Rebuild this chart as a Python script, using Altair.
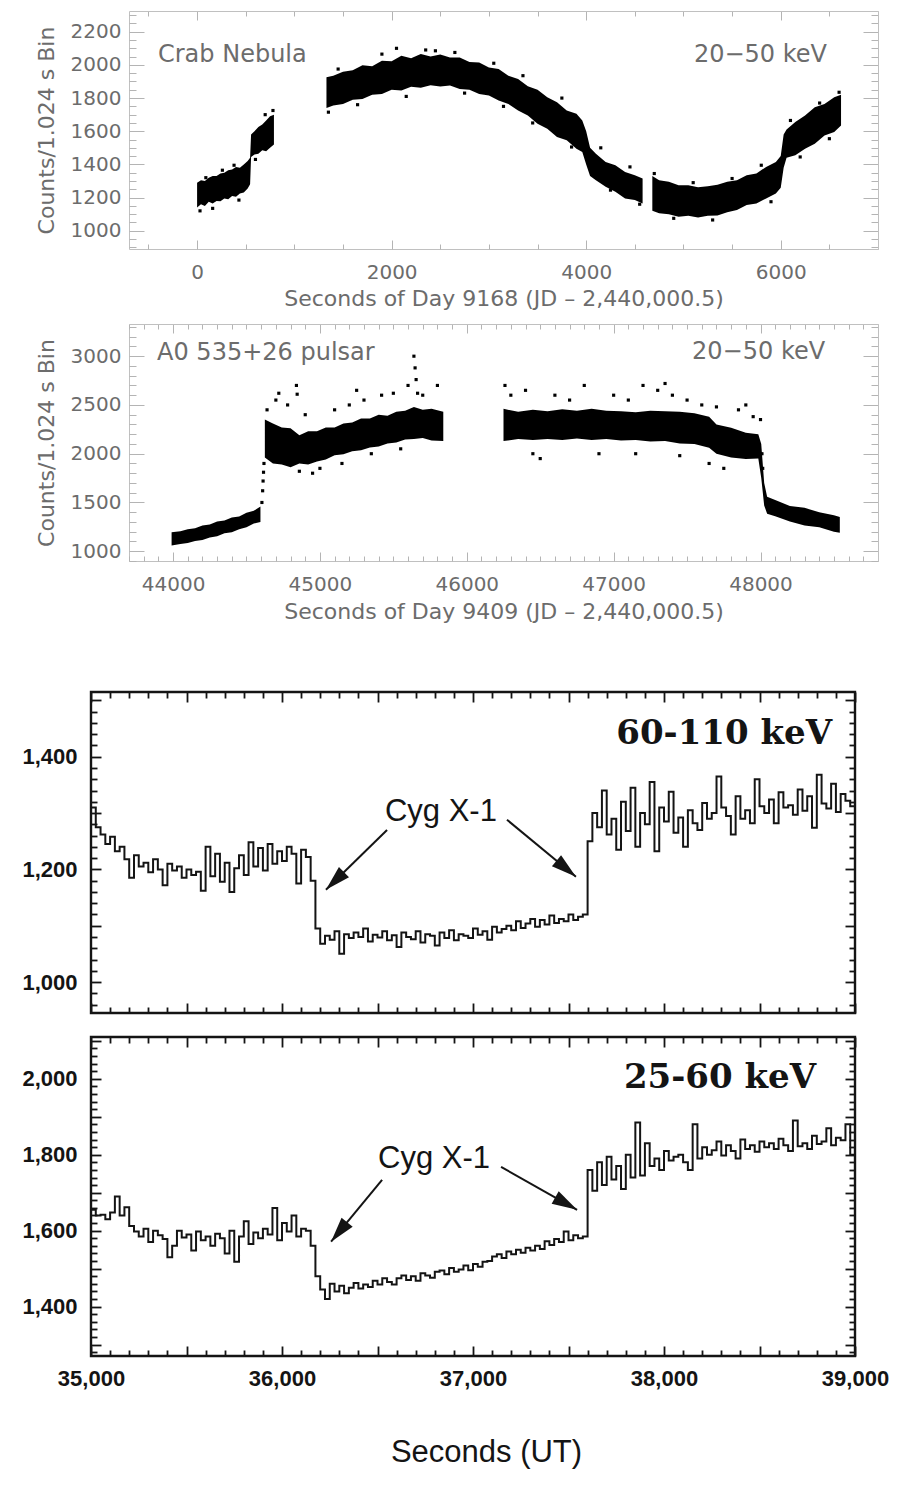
import math
import altair as alt
import pandas as pd

# ---------------- Panel 1: Crab Nebula, 20-50 keV (band of dense points) ----------------
crab_a_t = [0, 40, 80, 120, 160, 200, 240, 280, 320, 360, 400, 440, 480, 520, 545, 555, 590, 630, 670, 710, 750, 790]
crab_a_lo = [1140, 1160, 1150, 1175, 1165, 1180, 1178, 1195, 1190, 1210, 1205, 1225, 1230, 1255, 1280, 1445, 1460, 1465, 1485, 1480, 1500, 1520]
crab_a_hi = [1290, 1305, 1300, 1320, 1330, 1330, 1345, 1350, 1365, 1370, 1385, 1380, 1400, 1420, 1440, 1580, 1600, 1625, 1640, 1665, 1690, 1700]

crab_b_t = [1330, 1400, 1500, 1600, 1700, 1800, 1900, 2000, 2100, 2200, 2300, 2400, 2500, 2600, 2700, 2800, 2900, 3000,
            3100, 3200, 3300, 3400, 3500, 3600, 3700, 3800, 3900, 3960, 4000, 4040, 4100, 4200, 4300, 4400, 4500, 4580]
crab_b_lo = [1740, 1755, 1765, 1790, 1795, 1820, 1825, 1850, 1845, 1868, 1862, 1878, 1870, 1876, 1855, 1850, 1825, 1815,
             1785, 1765, 1725, 1695, 1645, 1615, 1565, 1545, 1495, 1475, 1400, 1330, 1305, 1265, 1235, 1195, 1185, 1165]
crab_b_hi = [1925, 1935, 1958, 1968, 1998, 1992, 2025, 2022, 2055, 2040, 2065, 2050, 2062, 2045, 2045, 2018, 2015, 1985,
             1975, 1935, 1915, 1872, 1850, 1805, 1775, 1725, 1705, 1665, 1600, 1500, 1465, 1415, 1395, 1355, 1335, 1315]

crab_c_t = [4680, 4750, 4850, 4950, 5050, 5150, 5250, 5350, 5450, 5550, 5650, 5750, 5850, 5950, 6000, 6030, 6060, 6150,
            6250, 6350, 6450, 6550, 6620]
crab_c_lo = [1120, 1105, 1100, 1085, 1090, 1080, 1090, 1092, 1112, 1125, 1155, 1165, 1195, 1225, 1260, 1380, 1440, 1455,
             1495, 1525, 1575, 1595, 1635]
crab_c_hi = [1330, 1305, 1295, 1275, 1275, 1262, 1268, 1278, 1295, 1305, 1335, 1345, 1385, 1415, 1450, 1580, 1610, 1655,
             1695, 1745, 1765, 1805, 1820]

crab_out_t = [30, 90, 160, 260, 380, 430, 600, 700, 780, 1350, 1450, 1650, 1900, 2050, 2150, 2350, 2450, 2650, 2750, 3050,
              3150, 3350, 3450, 3750, 3850, 4150, 4250, 4450, 4550, 4700, 4900, 5100, 5300, 5500, 5800, 5900, 6100, 6200,
              6400, 6500, 6600]
crab_out_y = [1120, 1320, 1135, 1365, 1395, 1185, 1430, 1700, 1725, 1715, 1975, 1760, 2065, 2100, 1810, 2090, 2085, 2075,
              1830, 2010, 1750, 1935, 1650, 1800, 1505, 1500, 1245, 1385, 1160, 1345, 1075, 1290, 1065, 1315, 1395, 1175,
              1665, 1445, 1770, 1555, 1835]

# ---------------- Panel 2: A0 535+26 pulsar, 20-50 keV ----------------
psr_a_t = [43990, 44050, 44100, 44150, 44200, 44250, 44300, 44350, 44400, 44450, 44500, 44550, 44595]
psr_a_lo = [1060, 1075, 1085, 1105, 1115, 1140, 1155, 1185, 1195, 1225, 1245, 1285, 1300]
psr_a_hi = [1195, 1205, 1225, 1235, 1265, 1275, 1305, 1315, 1345, 1355, 1395, 1415, 1460]

psr_b_t = [44625, 44680, 44740, 44800, 44860, 44920, 44980, 45040, 45100, 45160, 45220, 45280, 45340, 45400, 45460,
           45520, 45580, 45640, 45700, 45760, 45840]
psr_b_lo = [1960, 1900, 1890, 1860, 1900, 1890, 1920, 1940, 1985, 1995, 2025, 2035, 2065, 2075, 2105, 2115, 2145, 2150,
            2160, 2135, 2130]
psr_b_hi = [2350, 2310, 2270, 2260, 2190, 2230, 2230, 2270, 2270, 2310, 2320, 2360, 2360, 2400, 2390, 2430, 2440, 2480,
            2450, 2460, 2430]

psr_c_t = [46250, 46350, 46450, 46550, 46650, 46750, 46850, 46950, 47050, 47150, 47250, 47350, 47450, 47550, 47650,
           47700, 47800, 47900, 47985, 48005, 48025, 48045, 48100, 48200, 48300, 48400, 48500, 48540]
psr_c_lo = [2130, 2150, 2140, 2150, 2140, 2155, 2140, 2150, 2135, 2140, 2125, 2130, 2105, 2100, 2060, 2000, 1960, 1945,
            1950, 1750, 1470, 1385, 1360, 1305, 1265, 1245, 1200, 1190]
psr_c_hi = [2460, 2430, 2450, 2435, 2455, 2440, 2460, 2440, 2435, 2425, 2440, 2435, 2430, 2415, 2380, 2300, 2265, 2215,
            2200, 2100, 1700, 1560, 1525, 1465, 1445, 1400, 1370, 1350]

psr_out_t = [44605, 44610, 44613, 44616, 44619, 44640, 44700, 44720, 44780, 44840, 44845, 44860, 44900, 44950, 45000,
             45100, 45150, 45200, 45250, 45300, 45350, 45420, 45500, 45550, 45600, 45640, 45648, 45655, 45665, 45700,
             45800, 46260, 46300, 46400, 46450, 46500, 46600, 46700, 46800, 46900, 47000, 47100, 47150, 47200, 47300,
             47350, 47400, 47450, 47500, 47600, 47650, 47700, 47750, 47850, 47900, 47950, 48000, 48010, 48015]
psr_out_y = [1500, 1620, 1720, 1810, 1900, 2450, 2550, 2620, 2500, 2700, 2610, 1820, 2400, 1800, 1850, 2450, 1900, 2500,
             2650, 2550, 2000, 2600, 2620, 2050, 2700, 3000, 2880, 2760, 2620, 2600, 2700, 2700, 2600, 2650, 2000, 1950,
             2600, 2550, 2700, 2000, 2600, 2550, 2000, 2700, 2650, 2720, 2600, 1980, 2550, 2500, 1900, 2480, 1850, 2450,
             2500, 2380, 2350, 2000, 1850]

# ---------------- Panels 3 & 4: Cyg X-1 occultation steps (25 s bins from 35,000 s) ----------------
T0 = 35000
DT = 25

hard_a = [1310, 1275, 1262, 1245, 1258, 1232, 1240, 1218, 1185, 1225, 1205, 1212, 1195, 1218, 1200, 1172, 1210, 1198,
          1205, 1185, 1200, 1190, 1196, 1162, 1240, 1188, 1228, 1178, 1212, 1160, 1202, 1225, 1190, 1248, 1205, 1238,
          1198, 1245, 1210, 1232, 1215, 1240, 1228, 1175, 1235, 1222, 1180, 1095]
hard_b = [1068, 1082, 1075, 1090, 1050, 1085, 1078, 1088, 1080, 1095, 1072, 1084, 1079, 1090, 1074, 1083, 1062, 1088,
          1080, 1076, 1090, 1070, 1085, 1082, 1065, 1088, 1078, 1092, 1074, 1085, 1082, 1078, 1095, 1084, 1090, 1075,
          1098, 1088, 1094, 1100, 1092, 1108, 1096, 1104, 1112, 1098, 1110, 1102, 1118, 1105, 1112, 1108, 1120, 1110, 1116]
hard_jump = [1120]
hard_c = [1250, 1300, 1275, 1340, 1262, 1290, 1235, 1320, 1268, 1345, 1240, 1300, 1280, 1355, 1232, 1310, 1285, 1338,
          1265, 1292, 1240, 1305, 1282, 1270, 1318, 1290, 1300, 1365, 1310, 1295, 1262, 1330, 1290, 1305, 1282, 1360,
          1312, 1300, 1324, 1282, 1337, 1310, 1314, 1297, 1342, 1304, 1330, 1274, 1368, 1317, 1308, 1352, 1302, 1334,
          1322, 1312]

soft_a = [1655, 1640, 1642, 1630, 1648, 1690, 1640, 1662, 1612, 1598, 1585, 1605, 1570, 1600, 1588, 1578, 1530, 1560,
          1600, 1582, 1590, 1548, 1598, 1575, 1585, 1560, 1592, 1580, 1540, 1600, 1518, 1585, 1625, 1565, 1595, 1580,
          1605, 1590, 1660, 1575, 1620, 1598, 1640, 1585, 1605, 1600, 1560, 1480]
soft_b = [1445, 1420, 1460, 1440, 1455, 1435, 1450, 1462, 1448, 1458, 1452, 1468, 1458, 1475, 1465, 1458, 1475, 1482,
          1470, 1480, 1468, 1488, 1482, 1476, 1492, 1495, 1485, 1502, 1492, 1498, 1508, 1496, 1512, 1505, 1518, 1520,
          1532, 1538, 1528, 1545, 1538, 1550, 1542, 1555, 1548, 1560, 1552, 1572, 1562, 1578, 1570, 1598, 1575, 1588, 1580]
soft_jump = [1585]
soft_c = [1760, 1705, 1780, 1720, 1795, 1735, 1770, 1710, 1800, 1740, 1885, 1745, 1830, 1770, 1790, 1760, 1810, 1785,
          1795, 1800, 1780, 1760, 1880, 1790, 1820, 1800, 1812, 1835, 1798, 1825, 1810, 1790, 1840, 1815, 1825, 1808,
          1835, 1820, 1830, 1815, 1842, 1825, 1810, 1890, 1822, 1830, 1815, 1850, 1828, 1835, 1870, 1825, 1845, 1838,
          1880, 1800]

# annotations (data coordinates)
crab_notes = {"left": ("Crab Nebula", -402, 2060), "right": ("20\u221250 keV", 6475, 2060)}
psr_notes = {"left": ("A0 535+26 pulsar", 43891, 3035), "right": ("20\u221250 keV", 48440, 3040)}
hard_band = ("60-110 keV", 38880, 1441)
soft_band = ("25-60 keV", 38796, 2002)
hard_cyg = ("Cyg X-1", 36832, 1302)
soft_cyg = ("Cyg X-1", 36796, 1789)
hard_arrow_x = [36550, 37178]
hard_arrow_y = [1270, 1288]
hard_arrow_x2 = [36230, 37539]
hard_arrow_y2 = [1164, 1187]
soft_arrow_x = [36524, 37147]
soft_arrow_y = [1734, 1768]
soft_arrow_x2 = [36257, 37545]
soft_arrow_y2 = [1571, 1655]

# tick / label values
crab_xlabels = [0, 2000, 4000, 6000]
crab_ylabels = [1000, 1200, 1400, 1600, 1800, 2000, 2200]
psr_xlabels = [44000, 45000, 46000, 47000, 48000]
psr_ylabels = [1000, 1500, 2000, 2500, 3000]
cyg_xlabels = [35000, 36000, 37000, 38000, 39000]
hard_ylabels = [1000, 1200, 1400]
soft_ylabels = [1400, 1600, 1800, 2000]

# ---------------- geometry & style ----------------
# all four groups share the same origin (x = 92 px); the upper frames start 38 px further right
INSET = 38
WT = 787                      # group width of the two upper panels (frame = INSET..WT)
H1, H2 = 238, 237
W3, H3 = 764, 321
W4, H4 = 764, 319
X1, Y1 = [-700, 7000], [890, 2325]
X2, Y2 = [43700, 48800], [900, 3330]
X3, Y3 = [35000, 39000], [945, 1515]
X4, Y4 = [35000, 39000], [1270, 2110]

G_TXT = "#6c6c6c"
G_TICK = "#b4b4b4"
G_FRAME = "#c0c0c0"
INK = "#141414"
F_TOP = "DejaVu Sans"
F_BOT = "Liberation Sans"


def band_df(parts):
    return pd.concat([pd.DataFrame({"t": t, "lo": lo, "hi": hi, "seg": s}) for s, t, lo, hi in parts],
                     ignore_index=True)


def step_df(vals):
    return pd.DataFrame({"t": [T0 + DT * i for i in range(len(vals) + 1)], "c": vals + [vals[-1]]})


def cond(test, major, minor):
    return {"condition": {"test": test, "value": major}, "value": minor}


def tick_axis(orient, offset, values, test, major, minor, color, width, domain=False, dcolor=None, dwidth=1):
    kw = dict(orient=orient, offset=offset, values=values, labels=False, domain=domain, grid=False,
              title=None, tickColor=color, tickWidth=width, tickSize=cond(test, major, minor), zindex=1)
    if domain:
        kw.update(domainColor=dcolor, domainWidth=dwidth)
    return alt.Axis(**kw)


def sc(d, rng=None):
    if rng is None:
        return alt.Scale(domain=d, nice=False, zero=False)
    return alt.Scale(domain=d, nice=False, zero=False, range=rng)


def top_panel(bands, outs, notes, xdom, ydom, H, xlabels, ylabels, xtitle, xtick, ytick, title_y):
    xs, ys = sc(xdom, [INSET, WT]), sc(ydom)
    bdf = band_df(bands)
    odf = pd.DataFrame({"t": outs[0], "y": outs[1]})
    band = alt.Chart(bdf).mark_area(color="black", clip=True).encode(
        x=alt.X("t:Q", scale=xs, axis=None), y=alt.Y("lo:Q", scale=ys, axis=None), y2="hi:Q", detail="seg:N")
    dots = alt.Chart(odf).mark_square(size=10, color="black", opacity=1, clip=True).encode(
        x=alt.X("t:Q", scale=xs, axis=None), y=alt.Y("y:Q", scale=ys, axis=None))
    layers = [band, dots]
    for side in ("left", "right"):
        txt, tx, ty = notes[side]
        ndf = pd.DataFrame({"label": [txt], "t": [tx], "y": [ty]})
        layers.append(alt.Chart(ndf).mark_text(align=side, baseline="middle", font=F_TOP, fontSize=24,
                                               color=G_TXT).encode(
            x=alt.X("t:Q", scale=xs, axis=None), y=alt.Y("y:Q", scale=ys, axis=None), text="label:N"))
    ax_x = alt.Axis(orient="bottom", values=xlabels, format="d", ticks=False, tickSize=0, domain=True,
                    domainColor=G_FRAME, domainWidth=1, grid=False,
                    labelPadding=13, labelFont=F_TOP, labelFontSize=20, labelColor=G_TXT, labelFlush=False,
                    labelOverlap=False, title=xtitle, titleFont=F_TOP, titleFontSize=22, titleFontWeight="normal",
                    titleColor=G_TXT, titleX=(INSET + WT) / 2, titleY=title_y, titleBaseline="top",
                    titleAlign="center")
    ax_y = alt.Axis(orient="left", offset=-INSET, values=ylabels, format="d", ticks=False, tickSize=0,
                    domain=True, domainColor=G_FRAME, domainWidth=1, grid=False,
                    labelPadding=8, labelFont=F_TOP, labelFontSize=20, labelColor=G_TXT, labelOverlap=False,
                    title="Counts/1.024 s Bin", titleFont=F_TOP, titleFontSize=22,
                    titleFontWeight="normal", titleColor=G_TXT, titleX=-71, titleY=H / 2, titleAngle=270,
                    titleBaseline="bottom", titleAlign="center")
    xv, xt = xtick
    yv, yt = ytick
    carrier = alt.Chart(bdf).mark_point(opacity=0).encode(
        x=alt.X("t:Q", scale=xs, axis=ax_x), y=alt.Y("lo:Q", scale=ys, axis=ax_y))
    ins_a = alt.Chart(bdf).mark_point(opacity=0).encode(
        x=alt.X("t:Q", scale=xs, axis=tick_axis("top", -H, xv, xt, 9, 5, G_TICK, 1)),
        y=alt.Y("lo:Q", scale=ys, axis=tick_axis("right", INSET - WT, yv, yt, 15, 7, G_TICK, 1)))
    ins_b = alt.Chart(bdf).mark_point(opacity=0).encode(
        x=alt.X("t:Q", scale=xs, axis=tick_axis("bottom", -H, xv, xt, 9, 5, G_TICK, 1, True, G_FRAME, 1)),
        y=alt.Y("lo:Q", scale=ys, axis=tick_axis("left", -WT, yv, yt, 15, 7, G_TICK, 1, True, G_FRAME, 1)))
    return alt.layer(*layers, carrier, ins_a, ins_b).resolve_axis(
        x="independent", y="independent").properties(width=WT, height=H,
                                                     view=alt.ViewBackground(strokeWidth=0))


def arrow_frame(x, y, x2, y2, xdom, ydom, W, H):
    ang = []
    for a, b, c, d in zip(x, y, x2, y2):
        dxp = (c - a) * W / (xdom[1] - xdom[0])
        dyp = -(d - b) * H / (ydom[1] - ydom[0])
        ang.append(math.degrees(math.atan2(dxp, -dyp)) % 360)
    return pd.DataFrame({"x": x, "y": y, "x2": x2, "y2": y2, "ang": ang})


HEAD = "M0,0L0.6,2.1L-0.6,2.1Z"


def bottom_panel(vals, band_note, cyg_note, arrows, xdom, ydom, W, H, ylabels, with_x):
    xs, ys = sc(xdom), sc(ydom)
    sdf = step_df(vals)
    line = alt.Chart(sdf).mark_line(interpolate="step-after", color=INK, strokeWidth=2, clip=True).encode(
        x=alt.X("t:Q", scale=xs, axis=None), y=alt.Y("c:Q", scale=ys, axis=None))
    bdf = pd.DataFrame({"label": [band_note[0]], "t": [band_note[1]], "y": [band_note[2]]})
    btxt = alt.Chart(bdf).mark_text(align="right", baseline="middle", font="DejaVu Serif", fontWeight="bold",
                                    fontSize=34, color=INK).encode(
        x=alt.X("t:Q", scale=xs, axis=None), y=alt.Y("y:Q", scale=ys, axis=None), text="label:N")
    cdf = pd.DataFrame({"label": [cyg_note[0]], "t": [cyg_note[1]], "y": [cyg_note[2]]})
    ctxt = alt.Chart(cdf).mark_text(align="center", baseline="middle", font=F_BOT, fontSize=31, color=INK).encode(
        x=alt.X("t:Q", scale=xs, axis=None), y=alt.Y("y:Q", scale=ys, axis=None), text="label:N")
    adf = arrow_frame(*arrows, xdom, ydom, W, H)
    shaft = alt.Chart(adf).mark_rule(color=INK, strokeWidth=2).encode(
        x=alt.X("x:Q", scale=xs, axis=None), y=alt.Y("y:Q", scale=ys, axis=None), x2="x2:Q", y2="y2:Q")
    head = alt.Chart(adf).mark_point(shape=HEAD, filled=True, size=576, color=INK, opacity=1, strokeWidth=0).encode(
        x=alt.X("x2:Q", scale=xs, axis=None), y=alt.Y("y2:Q", scale=ys, axis=None),
        angle=alt.Angle("ang:Q", scale=None))
    layers = [line, btxt, ctxt, shaft, head]
    if with_x:
        ax_x = alt.Axis(orient="bottom", values=cyg_xlabels, format=",d", ticks=False, tickSize=0, domain=False,
                        grid=False, labelPadding=12, labelFont=F_BOT, labelFontSize=22, labelFontWeight="bold",
                        labelColor=INK, labelFlush=False, labelOverlap=False, title="Seconds (UT)",
                        titleFont=F_BOT, titleFontSize=31, titleFontWeight="normal", titleColor=INK,
                        titleX=W / 2 + 13, titleY=81, titleBaseline="top", titleAlign="center")
    else:
        ax_x = None
    ax_y = alt.Axis(orient="left", values=ylabels, format=",d", ticks=False, tickSize=0, domain=False, grid=False,
                    labelPadding=14, labelFont=F_BOT, labelFontSize=22, labelFontWeight="bold", labelColor=INK,
                    labelOverlap=False, title=None)
    xv = list(range(35000, 39001, 100))
    yv = list(range(int(math.ceil(ydom[0] / 20.0)) * 20, ydom[1] + 1, 20))
    xt, yt = "datum.value % 500 === 0", "datum.value % 100 === 0"
    carrier = alt.Chart(sdf).mark_point(opacity=0).encode(
        x=alt.X("t:Q", scale=xs, axis=ax_x), y=alt.Y("c:Q", scale=ys, axis=ax_y))
    ins_a = alt.Chart(sdf).mark_point(opacity=0).encode(
        x=alt.X("t:Q", scale=xs, axis=tick_axis("top", -H, xv, xt, 10, 6, INK, 1.8)),
        y=alt.Y("c:Q", scale=ys, axis=tick_axis("right", -W, yv, yt, 10, 6, INK, 1.8)))
    ins_b = alt.Chart(sdf).mark_point(opacity=0).encode(
        x=alt.X("t:Q", scale=xs, axis=tick_axis("bottom", -H, xv, xt, 10, 6, INK, 1.8)),
        y=alt.Y("c:Q", scale=ys, axis=tick_axis("left", -W, yv, yt, 10, 6, INK, 1.8)))
    return alt.layer(*layers, carrier, ins_a, ins_b).resolve_axis(
        x="independent", y="independent").properties(width=W, height=H,
                                                     view=alt.ViewBackground(stroke=INK, strokeWidth=2.4))


p1 = top_panel([("a", crab_a_t, crab_a_lo, crab_a_hi), ("b", crab_b_t, crab_b_lo, crab_b_hi),
                ("c", crab_c_t, crab_c_lo, crab_c_hi)],
               (crab_out_t, crab_out_y), crab_notes, X1, Y1, H1, crab_xlabels, crab_ylabels,
               "Seconds of Day 9168 (JD \u2013 2,440,000.5)",
               (list(range(-500, 7001, 500)), "datum.value % 2000 === 0"),
               (list(range(900, 2301, 50)), "datum.value % 200 === 0"), 39)

p2 = top_panel([("a", psr_a_t, psr_a_lo, psr_a_hi), ("b", psr_b_t, psr_b_lo, psr_b_hi),
                ("c", psr_c_t, psr_c_lo, psr_c_hi)],
               (psr_out_t, psr_out_y), psr_notes, X2, Y2, H2, psr_xlabels, psr_ylabels,
               "Seconds of Day 9409 (JD \u2013 2,440,000.5)",
               (list(range(43700, 48801, 100)), "datum.value % 1000 === 0"),
               (list(range(900, 3301, 100)), "datum.value % 500 === 0"), 40)

p3 = bottom_panel(hard_a + hard_b + hard_jump + hard_c, hard_band, hard_cyg,
                  (hard_arrow_x, hard_arrow_y, hard_arrow_x2, hard_arrow_y2), X3, Y3, W3, H3, hard_ylabels, False)
p4 = bottom_panel(soft_a + soft_b + soft_jump + soft_c, soft_band, soft_cyg,
                  (soft_arrow_x, soft_arrow_y, soft_arrow_x2, soft_arrow_y2), X4, Y4, W4, H4, soft_ylabels, True)

top = alt.vconcat(p1, p2, spacing=14)
bottom = alt.vconcat(p3, p4, spacing=18)
chart = alt.vconcat(top, bottom, spacing=67).properties(
    padding={"left": 20, "top": 10, "right": 4, "bottom": 10}
).configure(background="white")

chart.save("out.html", embed_options={"renderer": "svg", "actions": False})
